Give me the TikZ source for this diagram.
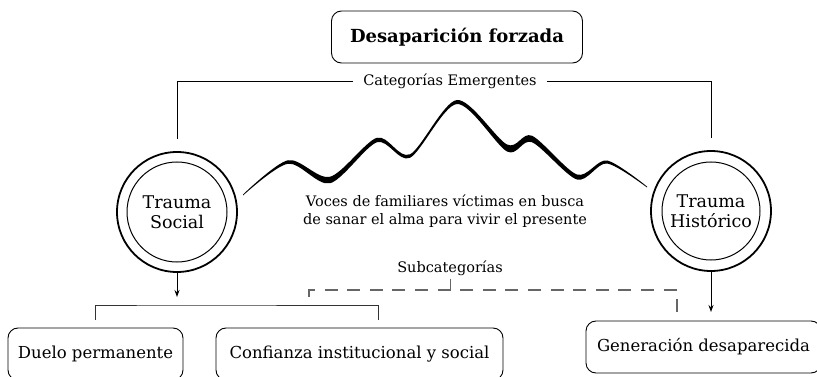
\documentclass[tikz,border=0pt]{standalone}
\usepackage{fontspec}
\setmainfont{DejaVu Serif}
\usetikzlibrary{positioning}
\usetikzlibrary{arrows.meta}
\tikzset{
        every node/.style={align=center,inner sep=0pt},
        caja/.style={draw,rounded corners=10pt,line width=0.9pt,font=\fontsize{16.5}{20}\selectfont},
        trauma/.style={circle,draw,line width=1.8pt,minimum size=120pt,font=\fontsize{17.5}{20}\selectfont},
        etiqueta/.style={fill=white,inner xsep=10pt,inner ysep=2pt,font=\fontsize{14.5}{18}\selectfont},
        linea/.style={line width=0.9pt},
        guion/.style={line width=1.1pt,draw=black!60,dash pattern=on 13pt off 9.6pt},
        flecha/.style={linea,-{Stealth[length=7pt,width=5pt]}},
        }

\begin{document}
\begin{tikzpicture}[x=1pt,y=-1pt]
			\useasboundingbox (0,0) rectangle (817,377);

			% titulo...................
			\node [caja, minimum width=251pt, minimum height=52pt, font=\bfseries\fontsize{18}{20}\selectfont] (titulo) at (457,37) {Desaparición forzada};

			% trauma circles...................
			\node [trauma] (social) at (177,212) {Trauma\\Social};
			\draw [line width=1pt] (social.center) circle (50);
			\node [trauma] (historico) at (711,211) {Trauma\\Histórico};
			\draw [line width=1pt] (historico.center) circle (49);

			% categorias emergentes...................
			\node [etiqueta] (categorias) at (450,81) {Categorías Emergentes};
			\draw [linea] (categorias.west) -| ([yshift=12pt]social.north);
			\draw [linea] (categorias.east) -| ([yshift=12pt]historico.north);

			% wave....................
			\fill plot [smooth] coordinates {(243,194.5) (288,160.25) (330,176.75) (377,137.75) (410,154.25) (457,100) (507,144.5) (532,135.75) (577,174.5) (607,160.5) (647,186.5)}
				-- plot [smooth] coordinates {(647,187.5) (607,163.5) (577,179.5) (532,142.25) (507,151.5) (457,104) (410,157.75) (377,142.25) (330,183.25) (288,163.75) (243,195.5)} -- cycle;

			% voces....................
			\node [font=\fontsize{14.5}{18}\selectfont] (voces) at (445,211) {Voces de familiares víctimas en busca\\de sanar el alma para vivir el presente};

			% subcategorias....................
			\node [font=\fontsize{14.5}{18}\selectfont] (subcategorias) at (450,268) {Subcategorías};

			% boxes....................
			\node [caja, minimum width=175pt, minimum height=52pt] (duelo) at (95.5,354) {Duelo permanente};
			\node [caja, minimum width=287pt, minimum height=52pt] (confianza) at (359.5,354) {Confianza institucional y social};
			\node [caja, minimum width=235pt, minimum height=52pt] (generacion) at (703.5,347) {Generación desaparecida};

			% bracket under trauma social..........
			\coordinate (llave) at (177,305);
			\coordinate (llaveI) at (95,320);
			\coordinate (llaveD) at (378,320);
			\draw [flecha] (social.south) -- ([yshift=8pt]llave);
			\draw [linea, draw=black!80] (llaveI) |- (llave) -| (llaveD);

			% dashed subcategorias..........
			\coordinate (subC) at (450,290);
			\coordinate (subI) at (309,297);
			\coordinate (subD) at (677,312);
			\draw [linea, draw=black!60] ([yshift=-3pt]subcategorias.south) -- (subC);
			\draw [guion] (subI) |- (subC) -| (subD);

			% arrow to generacion..........
			\coordinate (genA) at (711,312);
			\draw [flecha] (historico.south) -- (genA);
		\end{tikzpicture}
\end{document}
